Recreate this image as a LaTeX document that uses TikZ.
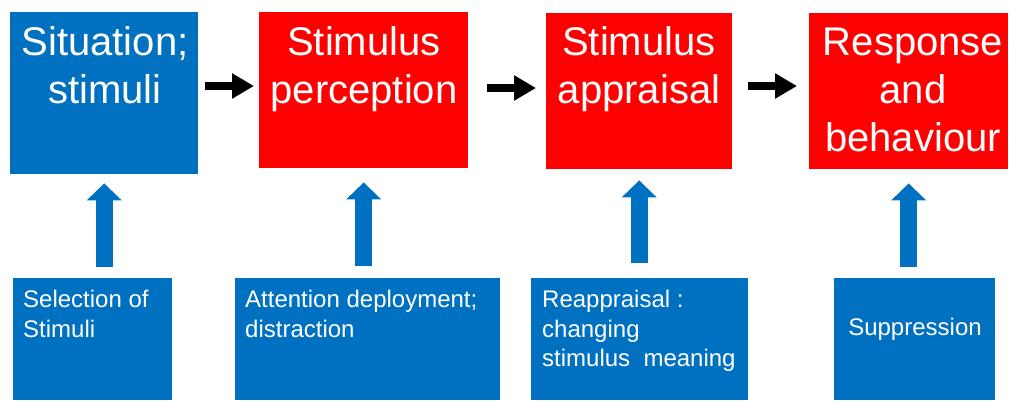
\documentclass[tikz,border=0pt]{standalone}
\usepackage{fontspec}
\setmainfont{Liberation Sans}
\usetikzlibrary{arrows.meta}
\definecolor{pblue}{HTML}{0070C0}
\definecolor{pred}{HTML}{FF0000}
\tikzset{
  topbox/.style={draw=none, inner sep=0, anchor=north west},
  toptext/.style={inner sep=0, anchor=north, text=white, align=center, font=\fontsize{40}{48}\selectfont},
  bottext/.style={inner sep=0, anchor=north west, text=white, align=left, font=\fontsize{24}{29.5}\selectfont},
  blk/.style={line width=8pt, black, -{Triangle[length=22pt,width=24pt]}},
  barrow/.style={line width=17pt, pblue, -{Triangle[length=17pt,width=34pt]}}
}
\begin{document}
\begin{tikzpicture}[x=1pt,y=-1pt]
\useasboundingbox (0,0) rectangle (1010,400);
% top boxes
\node[topbox, fill=pblue, minimum width=188pt, minimum height=162pt] (t1) at (10,12) {};
\node[topbox, fill=pred, minimum width=209pt, minimum height=156pt] (t2) at (259,12) {};
\node[topbox, fill=pred, minimum width=186pt, minimum height=156pt] (t3) at (546,13) {};
\node[topbox, fill=pred, minimum width=199pt, minimum height=156pt] (t4) at (809,13) {};
% top texts
\node[toptext] (tt1) at (105,26) {Situation;\\stimuli};
\node[toptext] (tt2) at (364,26) {Stimulus\\perception};
\node[toptext] (tt3) at (639,26) {Stimulus\\appraisal};
\node[toptext] (tt4) at (913,28) {Response\\and\\behaviour};
% bottom boxes
\node[topbox, fill=pblue, minimum width=159pt, minimum height=122pt] (b1) at (13,278) {};
\node[topbox, fill=pblue, minimum width=265pt, minimum height=122pt] (b2) at (235,278) {};
\node[topbox, fill=pblue, minimum width=217pt, minimum height=122pt] (b3) at (531,278) {};
\node[topbox, fill=pblue, minimum width=161pt, minimum height=122pt] (b4) at (834,278) {};
% bottom texts
\node[bottext] (bt1) at (23,290) {Selection of\\Stimuli};
\node[bottext] (bt2) at (245,290) {Attention deployment;\\distraction};
\node[bottext] (bt3) at (542,290) {Reappraisal :\\changing\\stimulus\ \ meaning};
\node[bottext, anchor=north] (bt4) at (915,318) {Suppression};
% horizontal arrows
\draw[blk, shorten <=7pt, shorten >=5pt] (t1.east |- 0,86) -- (t2.west |- 0,86);
\draw[blk, shorten <=19pt, shorten >=10pt] (t2.east |- 0,88) -- (t3.west |- 0,88);
\draw[blk, shorten <=16pt, shorten >=12pt] (t3.east |- 0,86) -- (t4.west |- 0,86);
% vertical arrows
\draw[barrow, shorten <=11pt, shorten >=9pt] (t1.south |- b1.north) -- (t1.south);
\draw[barrow, shorten <=12pt, shorten >=14pt] (t2.south |- b2.north) -- (t2.south);
\draw[barrow, shorten <=15pt, shorten >=11pt] (t3.south |- b3.north) -- (t3.south);
\draw[barrow, shorten <=11pt, shorten >=14pt] (t4.south |- b4.north) -- (t4.south);
\end{tikzpicture}
\end{document}
